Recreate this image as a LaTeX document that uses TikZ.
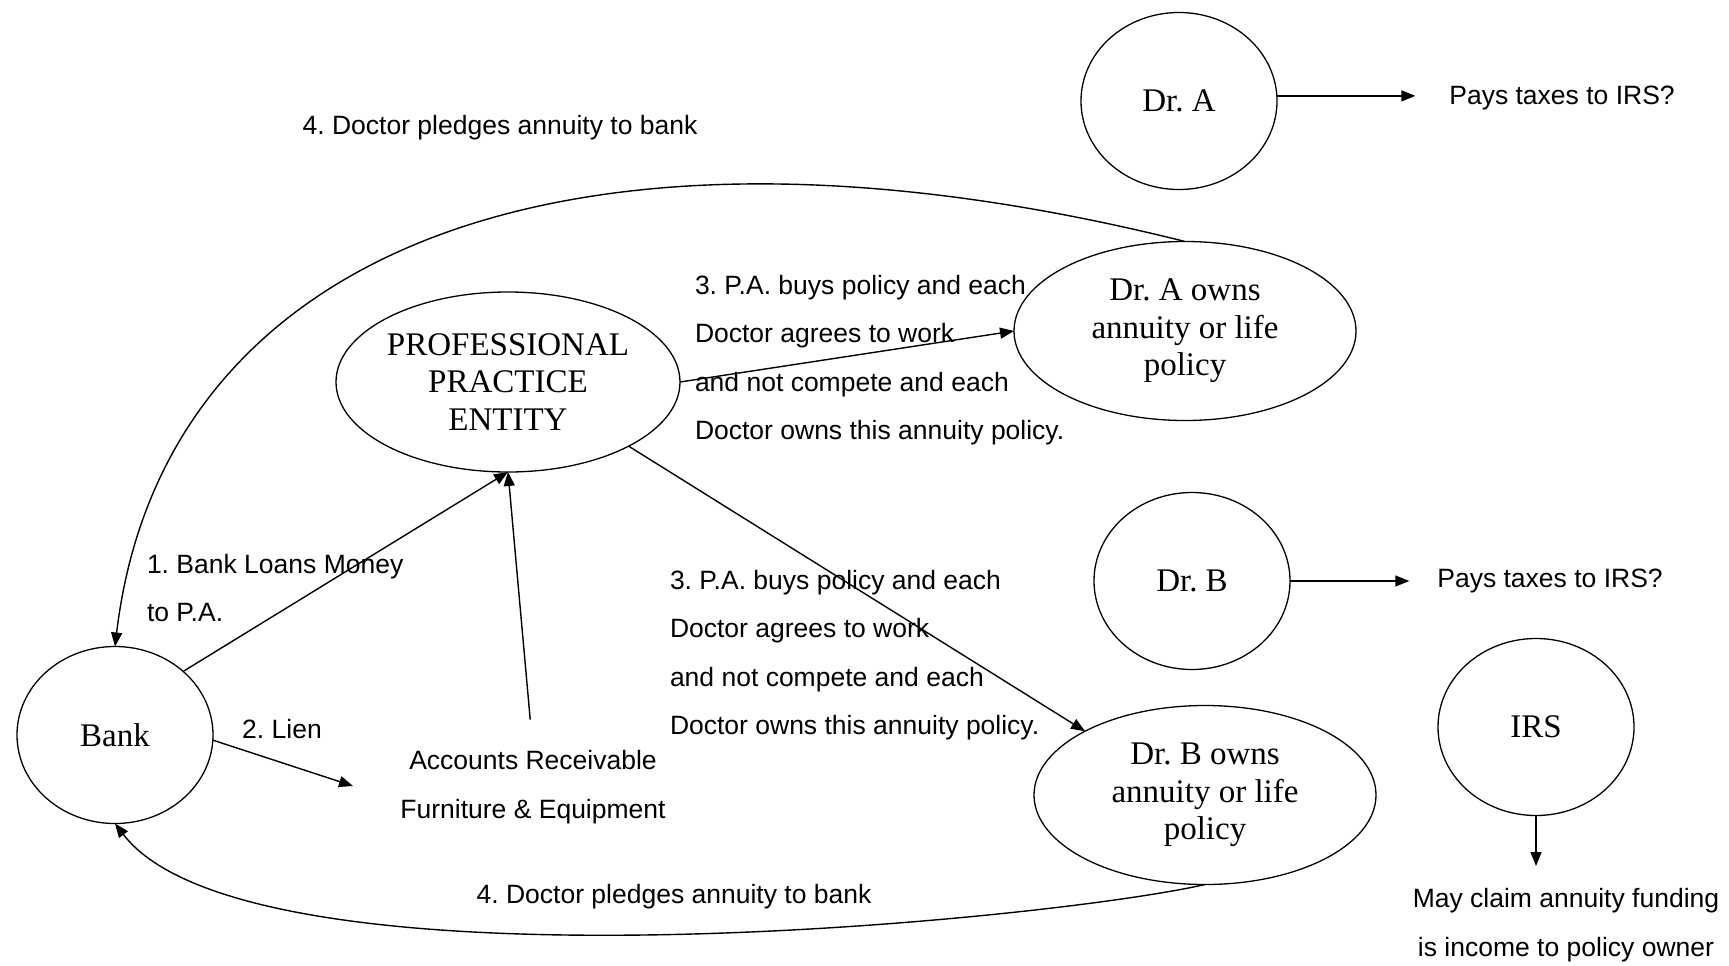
\documentclass[tikz,border=0pt]{standalone}
\usepackage{fontspec}
\setmainfont{Liberation Serif}
\newfontfamily\labelfont{Liberation Sans}
\usetikzlibrary{shapes.geometric,arrows.meta}
\frenchspacing

\begin{document}
\begin{tikzpicture}[x=1pt,y=-1pt,
  every node/.style={inner sep=0pt, outer sep=0pt},
  oval/.style={ellipse, draw, line width=1.3pt, align=center,
    font=\fontsize{33}{37.5}\selectfont},
  party/.style={oval, minimum width=196pt, minimum height=177pt},
  holder/.style={oval, minimum width=342pt, minimum height=179pt},
  note/.style={font=\labelfont\fontsize{26.5}{48.5}\selectfont},
  flow/.style={line width=1.4pt, -{Triangle[length=14pt,width=11pt]}},
]
\useasboundingbox (0,0) rectangle (1729,966);

% parties
\node[party] (drA)  at (1179,101) {Dr. A};
\node[party] (drB)  at (1192,581) {Dr. B};
\node[party] (irs)  at (1536,727) {IRS};
\node[party] (bank) at (115,735)  {Bank};
\node[oval, minimum width=344pt, minimum height=180pt] (ppe) at (508,382)
  {PROFESSIONAL\\PRACTICE\\ENTITY};
\node[holder] (drAown) at (1185,331) {Dr. A owns\\annuity or life\\policy};
\node[holder] (drBown) at (1205,795) {Dr. B owns\\annuity or life\\policy};

% labels
\node[note] (pledgeTop) at (500,128) {4. Doctor pledges annuity to bank};
\node[note] (pledgeBot) at (674,897) {4. Doctor pledges annuity to bank};
\node[note] (payA) at (1562,98)  {Pays taxes to IRS?};
\node[note] (payB) at (1550,581) {Pays taxes to IRS?};
\node[note, align=left, anchor=west] (loan) at (147,588)
  {1. Bank Loans Money\\to P.A.};
\node[note] (lien) at (282,729) {2. Lien};
\node[note, align=center] (ar) at (533,787)
  {Accounts Receivable\\Furniture \& Equipment};
\node[note, align=center] (claim) at (1566,925)
  {May claim annuity funding\\is income to policy owner};
\node[note, align=left, anchor=west] (noteA) at (695,360)
  {3. P.A. buys policy and each\\Doctor agrees to work\\and not compete and each\\Doctor owns this annuity policy.};
\node[note, align=left, anchor=west] (noteB) at (670,655)
  {3. P.A. buys policy and each\\Doctor agrees to work\\and not compete and each\\Doctor owns this annuity policy.};

\coordinate (lienTip) at (353,786);
\coordinate (claimTip) at (1536,866);

% connectors
\draw[flow] (bank.43) -- (ppe.south);
\draw[flow, shorten <=31pt] (ar.north) -- (ppe.south);
\draw[flow] (bank.-3) -- (lienTip);
\draw[flow] (ppe.east) -- (drAown.west);
\draw[flow] (ppe.-28) -- (drBown.152);
\draw[flow] (drAown.north) .. controls (580,90) and (163,243) .. (bank.north);
\draw[flow] (drBown.south) .. controls (1050,920) and (250,1000) .. (bank.south);
\draw[flow, shorten >=34pt] (drA.3) -- (drA.3 -| payA.west);
\draw[flow, shorten >=28pt] (drB.east) -- (drB.east -| payB.west);
\draw[flow] (irs.south) -- (claimTip);
\end{tikzpicture}
\end{document}
